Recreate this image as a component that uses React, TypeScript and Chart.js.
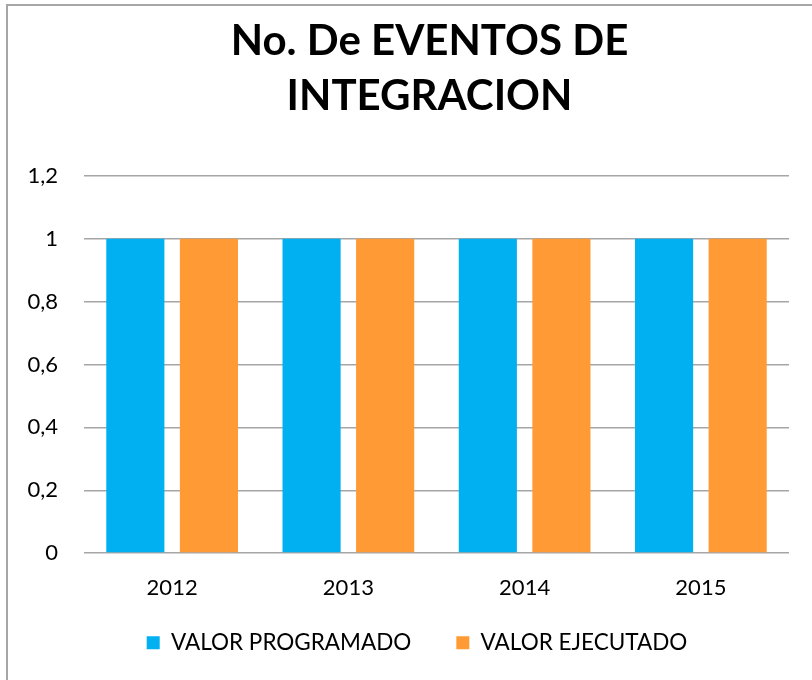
import React, { useEffect, useRef } from "react";
import { Chart, registerables } from "chart.js";

Chart.register(...registerables);

const categories = ["2012", "2013", "2014", "2015"];
const programado = [1, 1, 1, 1];
const ejecutado = [1, 1, 1, 1];
const seriesNames = ["VALOR PROGRAMADO", "VALOR EJECUTADO"];
const titleLines = ["No. De EVENTOS DE", "INTEGRACION"];

const FONT = "Lato, 'Open Sans', sans-serif";

const boxShift = {
  id: "boxShift",
  afterLayout(chart: any) {
    const t = chart.titleBlock;
    if (t) {
      t.left += 35;
      t.right += 35;
    }
    const l = chart.legend;
    if (l) {
      l.left += 22.5;
      l.right += 22.5;
      l.top -= 37;
      l.bottom -= 37;
    }
  },
};

export default function App() {
  const ref = useRef<HTMLCanvasElement | null>(null);
  useEffect(() => {
    if (!ref.current) return;
    const chart = new Chart(ref.current, {
      type: "bar",
      data: {
        labels: categories,
        datasets: [
          {
            label: seriesNames[0],
            data: programado,
            backgroundColor: "#00B0F0",
            barPercentage: 0.79,
            categoryPercentage: 0.835,
          },
          {
            label: seriesNames[1],
            data: ejecutado,
            backgroundColor: "#FF9A35",
            barPercentage: 0.79,
            categoryPercentage: 0.835,
          },
        ],
      },
      plugins: [boxShift],
      options: {
        animation: false,
        responsive: false,
        devicePixelRatio: 1,
        layout: { padding: { left: 0, right: 23, top: 0, bottom: -21 } },
        plugins: {
          title: {
            display: true,
            text: titleLines,
            color: "#000",
            font: { family: FONT, size: 42, weight: "bold", lineHeight: 55 / 42 },
            padding: { top: 14, bottom: 52 },
          },
          legend: {
            position: "bottom",
            labels: {
              color: "#000",
              font: { family: FONT, size: 22.5 },
              boxWidth: 13,
              boxHeight: 13,
              padding: 45,
            },
          },
          tooltip: { enabled: false },
        },
        scales: {
          x: {
            grid: { display: false, drawTicks: false },
            border: { display: false },
            ticks: { color: "#000", font: { family: FONT, size: 22 }, padding: 22 },
          },
          y: {
            min: 0,
            max: 1.2,
            grid: { color: "#A6A6A6", lineWidth: 1.5, drawTicks: false },
            border: { display: false },
            afterFit: (s: any) => {
              s.width = 84;
            },
            ticks: {
              stepSize: 0.2,
              color: "#000",
              padding: 26,
              font: { family: FONT, size: 22 },
              callback: (v: any) => {
                const n = Math.round(Number(v) * 10) / 10;
                return String(n).replace(".", ",");
              },
            },
          },
        },
      },
    });
    return () => chart.destroy();
  }, []);
  return (
    <div style={{ position: "fixed", left: 0, top: 0, width: 812, height: 680, overflow: "hidden", background: "#fff" }}>
      <div
        style={{
          position: "absolute",
          left: 6,
          top: 4,
          width: 900,
          height: 900,
          borderTop: "2px solid #A6A6A6",
          borderLeft: "2px solid #A6A6A6",
        }}
      />
      <canvas ref={ref} width={812} height={680} style={{ position: "absolute", left: 0, top: 0 }} />
    </div>
  );
}
